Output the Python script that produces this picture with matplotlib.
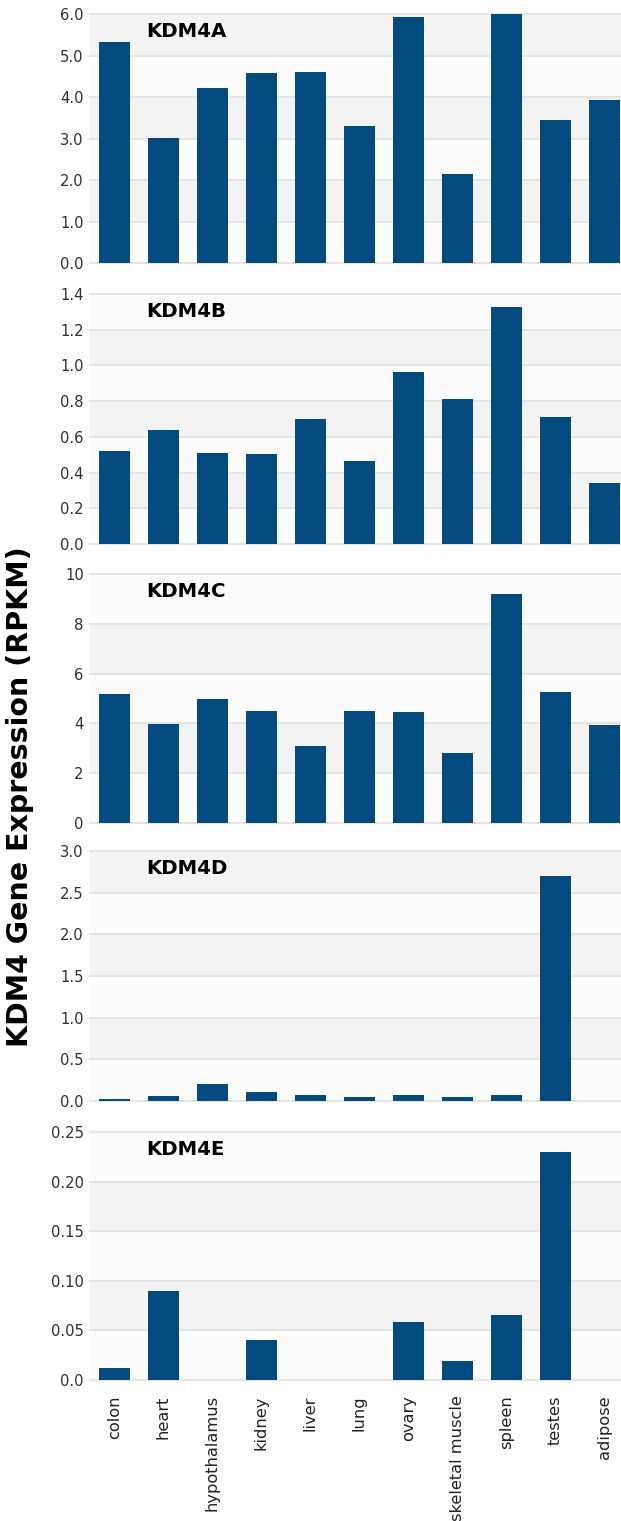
import numpy as np
import matplotlib
matplotlib.use("Agg")
import matplotlib.pyplot as plt

tissues = ["colon", "heart", "hypothalamus", "kidney", "liver", "lung",
           "ovary", "skeletal muscle", "spleen", "testes", "adipose"]

kdm4a = [5.33, 3.02, 4.21, 4.58, 4.61, 3.29, 5.92, 2.14, 6.0, 3.44, 3.93]
kdm4b = [0.52, 0.637, 0.51, 0.506, 0.70, 0.467, 0.966, 0.811, 1.325, 0.71, 0.34]
kdm4c = [5.19, 3.96, 4.97, 4.48, 3.11, 4.50, 4.45, 2.83, 9.20, 5.28, 3.94]
kdm4d = [0.02, 0.06, 0.20, 0.104, 0.068, 0.05, 0.07, 0.05, 0.07, 2.70, 0.0]
kdm4e = [0.012, 0.09, 0.0, 0.040, 0.0, 0.0, 0.058, 0.0195, 0.066, 0.23, 0.0]

names = ["KDM4A", "KDM4B", "KDM4C", "KDM4D", "KDM4E"]
series = [kdm4a, kdm4b, kdm4c, kdm4d, kdm4e]

ticks_a = [0, 1, 2, 3, 4, 5, 6]
ticks_b = [0, 0.2, 0.4, 0.6, 0.8, 1.0, 1.2, 1.4]
ticks_c = [0, 2, 4, 6, 8, 10]
ticks_d = [0, 0.5, 1.0, 1.5, 2.0, 2.5, 3.0]
ticks_e = [0, 0.05, 0.10, 0.15, 0.20, 0.25]
labels_a = ["0.0", "1.0", "2.0", "3.0", "4.0", "5.0", "6.0"]
labels_b = ["0.0", "0.2", "0.4", "0.6", "0.8", "1.0", "1.2", "1.4"]
labels_c = ["0", "2", "4", "6", "8", "10"]
labels_d = ["0.0", "0.5", "1.0", "1.5", "2.0", "2.5", "3.0"]
labels_e = ["0.0", "0.05", "0.10", "0.15", "0.20", "0.25"]
all_ticks = [ticks_a, ticks_b, ticks_c, ticks_d, ticks_e]
all_labels = [labels_a, labels_b, labels_c, labels_d, labels_e]

W, H = 621, 1521
# panel pixel extents (top, bottom)
panel_px = [(14, 263), (294, 544), (574, 823), (851, 1101), (1132, 1380)]
left_px = 90

bar_color = "#034a7e"
band_color = "#f3f3f3"
grid_color = "#e3e3e3"
tick_color = "#303030"

fig = plt.figure(figsize=(W / 100, H / 100), dpi=100)
fig.patch.set_facecolor("white")

x = np.arange(len(tissues))
for i in range(5):
    top, bot = panel_px[i]
    ax = fig.add_axes([left_px / W, 1 - bot / H, (W - left_px) / W, (bot - top) / H])
    ax.set_facecolor("#fcfcfc")
    t = all_ticks[i]
    # alternating bands
    for k in range(len(t) - 1):
        if k % 2 == 1:
            ax.axhspan(t[k], t[k + 1], color=band_color, lw=0, zorder=0)
    for v in t:
        ax.axhline(v, color=grid_color, lw=1.3, zorder=0.5, clip_on=False)
    ax.bar(x, series[i], width=0.63, color=bar_color, zorder=2)
    ax.set_xlim(-0.5, 10.34)
    ax.set_ylim(t[0], t[-1])
    ax.set_yticks(t)
    ax.set_yticklabels(all_labels[i], fontsize=10.6, color=tick_color)
    ax.tick_params(axis="y", length=0, pad=4.5)
    for s in ax.spines.values():
        s.set_visible(False)
    ax.set_xticks(x)
    if i == 4:
        ax.set_xticklabels(tissues, rotation=90, fontsize=11.7, color="#222222", va="top", ha="center")
        ax.tick_params(axis="x", length=0, pad=11)
    else:
        ax.set_xticklabels([])
        ax.tick_params(axis="x", length=0)
    ax.text(0.105, 0.93, names[i], transform=ax.transAxes, fontsize=14.2,
            fontweight="bold", color="black", ha="left", va="center")

fig.text(20 / W, 1 - 797 / H, "KDM4 Gene Expression (RPKM)", rotation=90,
         fontsize=20.5, fontweight="bold", ha="center", va="center", color="black")

fig.savefig("out.png", dpi=100, facecolor="white")
